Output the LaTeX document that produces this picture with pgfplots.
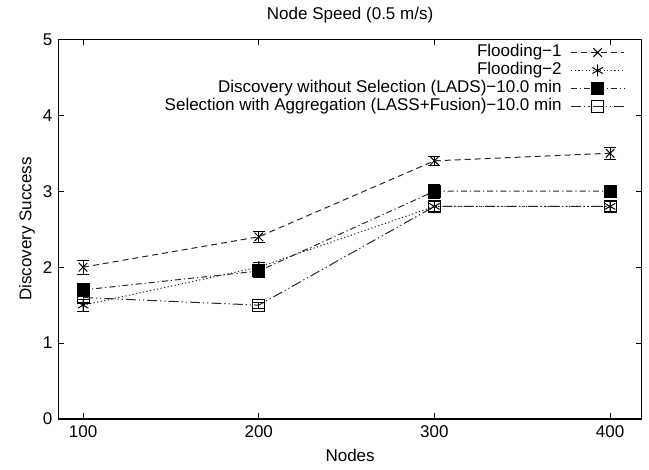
\documentclass[border=0pt]{standalone}
\usepackage{fontspec}
\setmainfont{Liberation Sans}
\usepackage{pgfplots}
\pgfplotsset{compat=1.18}
\begin{document}
\fontsize{8.5}{10}\selectfont
\begin{tikzpicture}
\begin{axis}[
  scale only axis,
  width=291.6pt, height=189.9pt,
  xmin=86, xmax=418, ymin=0, ymax=5,
  xtick={100,200,300,400}, ytick={0,1,2,3,4,5},
  tick align=inside, tick pos=both, major tick length=3pt,
  axis line style={line width=0.6pt},
  every tick/.style={line width=0.5pt, black},
  /pgf/number format/assume math mode=true,
  every axis title shift=0pt,
  title={Node Speed (0.5 m/s)},
  title style={at={(axis description cs:0.5,1.0632)}, anchor=center},
  xlabel={Nodes},
  xlabel style={at={(axis description cs:0.5,-0.0948)}, anchor=center},
  ylabel={Discovery Success},
  ylabel style={at={(axis description cs:-0.054,0.5)}, anchor=center},
  legend plot pos=right,
  legend cell align=right,
  legend style={at={(axis description cs:0.9714,0.99)}, anchor=north east,
    draw=none, fill=none, inner sep=0pt, row sep=0pt,
    nodes={inner sep=0.5pt, text height=6.2pt, text depth=1.8pt},
    /tikz/every odd column/.append style={column sep=4pt}},
  legend image code/.code={
    \draw[mark repeat=2,mark phase=2,#1] plot coordinates {(0pt,0pt) (13.25pt,0pt) (26.5pt,0pt)};
  },
]
\addplot[black!85, line width=0.5pt, dash pattern=on 3pt off 2pt,
  mark=x, mark size=3pt, mark options={solid,black},
  error bars/.cd, y dir=both, y explicit, error bar style={solid,black}]
  coordinates {(100,2.0) +- (0,0.09) (200,2.4) +- (0,0.07) (300,3.4) +- (0,0.06) (400,3.5) +- (0,0.08)};
\addlegendentry{Flooding−1}
\addplot[black!85, line width=0.5pt, dash pattern=on 0.6pt off 1.2pt,
  mark=asterisk, mark size=3pt, mark options={solid,black},
  error bars/.cd, y dir=both, y explicit, error bar style={solid,black}]
  coordinates {(100,1.5) +- (0,0.08) (200,2.0) +- (0,0.06) (300,2.8) +- (0,0.06) (400,2.8) +- (0,0.06)};
\addlegendentry{Flooding−2}
\addplot[black!85, line width=0.5pt, dash pattern=on 3pt off 1.5pt on 0.6pt off 1.5pt,
  mark=square*, mark size=3pt, mark options={solid,black},
  error bars/.cd, y dir=both, y explicit, error bar style={solid,black}]
  coordinates {(100,1.7) +- (0,0.08) (200,1.95) +- (0,0.08) (300,3.0) +- (0,0.09) (400,3.0) +- (0,0.08)};
\addlegendentry{Discovery without Selection (LADS)−10.0 min}
\addplot[black!85, line width=0.5pt, dash pattern=on 5pt off 1.5pt on 0.6pt off 1.5pt on 0.6pt off 1.5pt,
  mark=square, mark size=3pt, mark options={solid,black},
  error bars/.cd, y dir=both, y explicit, error bar style={solid,black}]
  coordinates {(100,1.6) +- (0,0.07) (200,1.5) +- (0,0.04) (300,2.8) +- (0,0.07) (400,2.8) +- (0,0.07)};
\addlegendentry{Selection with Aggregation (LASS+Fusion)−10.0 min}
\end{axis}
\pgfresetboundingbox
\path[use as bounding box] ([xshift=-29.25pt,yshift=-25pt]current axis.south west) rectangle ([xshift=3.65pt,yshift=19.65pt]current axis.north east);
\end{tikzpicture}
\end{document}
